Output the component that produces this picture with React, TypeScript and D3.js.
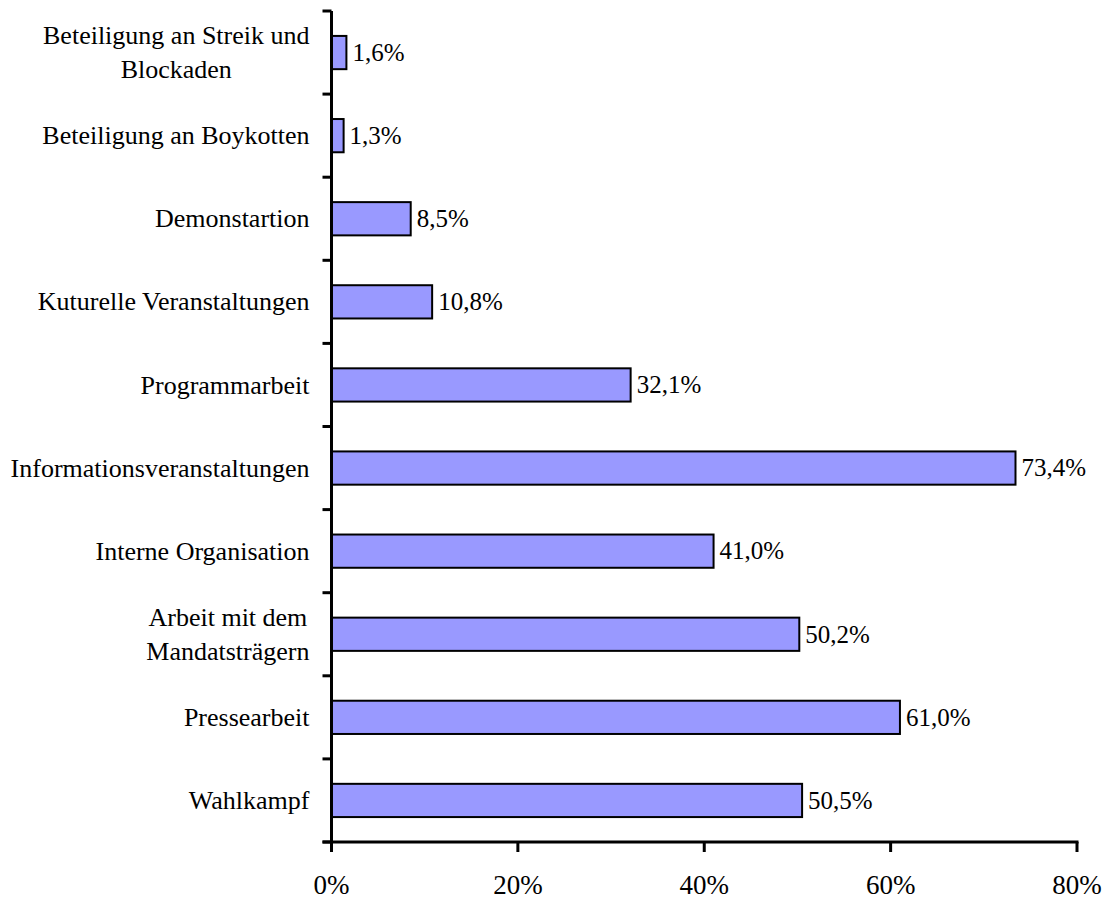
import React, { useRef, useEffect } from 'react'
import * as d3 from 'd3'

const categories = [
  'Beteiligung an Streik und|Blockaden',
  'Beteiligung an Boykotten',
  'Demonstartion',
  'Kuturelle Veranstaltungen',
  'Programmarbeit',
  'Informationsveranstaltungen',
  'Interne Organisation',
  'Arbeit mit dem|Mandatsträgern',
  'Pressearbeit',
  'Wahlkampf',
]
const values = [1.6, 1.3, 8.5, 10.8, 32.1, 73.4, 41.0, 50.2, 61.0, 50.5]
const valueLabels = ['1,6%', '1,3%', '8,5%', '10,8%', '32,1%', '73,4%', '41,0%', '50,2%', '61,0%', '50,5%']
const xTicks = [0, 20, 40, 60, 80]

const W = 1106
const H = 897
const FONT = 'Liberation Serif, serif'

const App = () => {
  const svgRef = useRef<SVGSVGElement>(null)

  useEffect(() => {
    const svg = d3.select(svgRef.current)
    svg.selectAll('*').remove()

    const left = 331.5
    const right = 1077
    const top = 11
    const bottom = 842

    const x = d3.scaleLinear().domain([0, 80]).range([left, right])
    const y = d3.scaleBand().domain(categories).range([top, bottom]).paddingInner(0.6).paddingOuter(0.3)
    const step = (bottom - top) / categories.length

    const g = svg.append('g').attr('font-family', FONT)

    // bars
    g.selectAll('.bar')
      .data(values)
      .join('rect')
      .attr('class', 'bar')
      .attr('x', x(0))
      .attr('y', (d, i) => y(categories[i]))
      .attr('width', d => x(d) - x(0))
      .attr('height', y.bandwidth())
      .attr('fill', '#9999ff')
      .attr('stroke', 'black')
      .attr('stroke-width', 2)

    // value labels
    g.selectAll('.val')
      .data(values)
      .join('text')
      .attr('class', 'val')
      .attr('x', d => x(d) + 6)
      .attr('y', (d, i) => y(categories[i]) + y.bandwidth() / 2)
      .attr('dy', '0.33em')
      .attr('font-size', 25)
      .text((d, i) => valueLabels[i])

    // y axis
    g.append('line')
      .attr('x1', left).attr('x2', left)
      .attr('y1', top).attr('y2', bottom)
      .attr('stroke', 'black').attr('stroke-width', 3)
    d3.range(categories.length + 1).forEach(i => {
      g.append('line')
        .attr('x1', left - 9).attr('x2', left)
        .attr('y1', top + i * step).attr('y2', top + i * step)
        .attr('stroke', 'black').attr('stroke-width', 3)
    })

    // x axis
    g.append('line')
      .attr('x1', left - 9).attr('x2', right + 1.5)
      .attr('y1', bottom).attr('y2', bottom)
      .attr('stroke', 'black').attr('stroke-width', 3)
    xTicks.forEach(t => {
      g.append('line')
        .attr('x1', x(t)).attr('x2', x(t))
        .attr('y1', bottom).attr('y2', bottom + 10)
        .attr('stroke', 'black').attr('stroke-width', 3)
      g.append('text')
        .attr('x', x(t))
        .attr('y', 894)
        .attr('text-anchor', 'middle')
        .attr('font-size', 27)
        .text(t + '%')
    })

    // category labels
    categories.forEach(c => {
      const lines = c.split('|')
      const cy = y(c) + y.bandwidth() / 2
      const lh = 34
      const grp = g.append('g')
      const texts = lines.map((ln, j) =>
        grp.append('text')
          .attr('y', cy + (j - (lines.length - 1) / 2) * lh)
          .attr('dy', '0.33em')
          .attr('text-anchor', 'middle')
          .attr('font-size', 26)
          .text(ln)
      )
      const maxW = d3.max(texts, t => (t.node() as SVGTextElement).getComputedTextLength()) || 0
      texts.forEach(t => t.attr('x', 309.5 - maxW / 2))
    })
  }, [])

  return (
    <svg ref={svgRef} width={W} height={H} style={{ position: 'absolute', left: 0, top: 0, background: 'white' }} />
  )
}

export default App
